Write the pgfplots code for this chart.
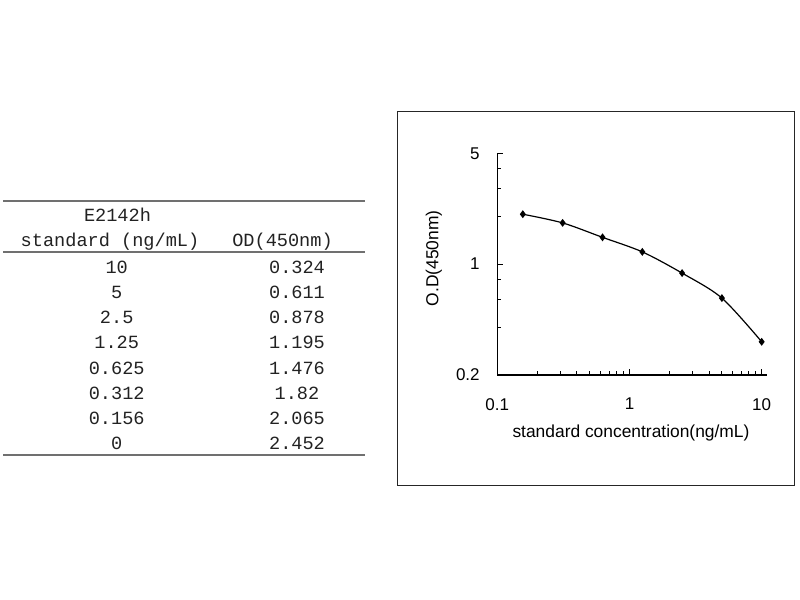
\documentclass[border=0pt]{standalone}
\usepackage{pgfplots}
\pgfplotsset{compat=1.18}
\usepackage{fontspec}
\setmainfont{Liberation Sans}
\newfontfamily\tabfont{Liberation Mono}
\definecolor{rulegray}{HTML}{707070}
\definecolor{txt}{HTML}{222222}
\begin{document}
\begin{tikzpicture}
\path[use as bounding box, fill=white] (0,0) rectangle (400pt,300pt);
% frame around chart
\draw[line width=0.6pt, color=black!85] (198.65pt,57.35pt) rectangle (397.15pt,244.35pt);
% table rules
\draw[line width=1pt, rulegray] (1.65pt,199.5pt) -- (182.5pt,199.5pt);
\draw[line width=1pt, rulegray] (1.65pt,174.15pt) -- (182.5pt,174.15pt);
\draw[line width=1pt, rulegray] (1.65pt,72.5pt) -- (182.5pt,72.5pt);
% table text
\begin{scope}[every node/.style={anchor=base, inner sep=0pt, font=\tabfont\fontsize{9.3pt}{11pt}\selectfont, text=txt}]
\node at (58.75pt,189.15pt) {E2142h};
\node at (55pt,176.65pt) {standard (ng/mL)};
\node at (141.25pt,176.65pt) {OD(450nm)};
\node at (58.35pt,163.35pt) {10};     \node at (148.5pt,163.35pt) {0.324};
\node at (58.35pt,150.75pt) {5};      \node at (148.5pt,150.75pt) {0.611};
\node at (58.35pt,138.15pt) {2.5};    \node at (148.5pt,138.15pt) {0.878};
\node at (58.35pt,125.55pt) {1.25};   \node at (148.5pt,125.55pt) {1.195};
\node at (58.35pt,112.95pt) {0.625};  \node at (148.5pt,112.95pt) {1.476};
\node at (58.35pt,100.35pt) {0.312};  \node at (148.5pt,100.35pt) {1.82};
\node at (58.35pt,87.75pt) {0.156};   \node at (148.5pt,87.75pt) {2.065};
\node at (58.35pt,75.15pt) {0};       \node at (148.5pt,75.15pt) {2.452};
\end{scope}
\begin{axis}[
  at={(248.65pt,112.5pt)}, anchor=south west,
  scale only axis, width=132.2pt, height=110.85pt,
  xmode=log, ymode=log,
  xmin=0.1, xmax=10, ymin=0.2, ymax=5,
  axis lines=left,
  axis line style={-, line width=0.55pt, black},
  x axis line style={shorten >=-2.5pt},
  tick align=inside,
  major tick length=3pt, minor tick length=2pt,
  tick style={line width=0.5pt, black},
  xtick={0.1,1,10}, xticklabels={0.1,1,10},
  ytick={0.2,1,5}, yticklabels={0.2,1,5},
  minor ytick={0.4,0.6,0.8,2,3,4},
  /pgf/number format/assume math mode=true,
  xticklabel style={font=\fontsize{8.5pt}{10pt}\selectfont, yshift=-8.1pt},
  yticklabel style={font=\fontsize{8.5pt}{10pt}\selectfont, xshift=-5.3pt},
  xlabel={standard concentration(ng/mL)},
  ylabel={O.D(450nm)},
  xlabel style={font=\fontsize{8.7pt}{10pt}\selectfont, at={(axis description cs:0.5057,-0.2616)}, anchor=center},
  ylabel style={font=\fontsize{8.7pt}{10pt}\selectfont, at={(axis description cs:-0.24,0.5257)}, anchor=center},
  clip=false,
]
\addplot[black, line width=0.6pt, smooth, mark=diamond*, mark size=1.5pt, mark options={solid, fill=black}]
coordinates {
 (0.156,2.065) (0.312,1.82) (0.625,1.476) (1.25,1.195) (2.5,0.878) (5,0.611) (10,0.324)
};
\end{axis}
\end{tikzpicture}
\end{document}
